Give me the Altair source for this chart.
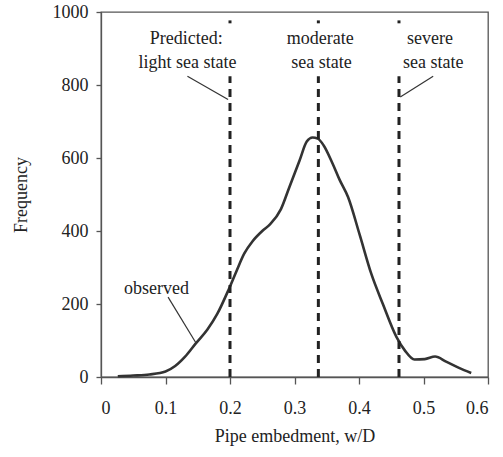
import altair as alt
import pandas as pd

# observed frequency curve
emb = [0.026, 0.05, 0.075, 0.1, 0.115, 0.13, 0.147, 0.165, 0.18, 0.198, 0.21, 0.222,
       0.235, 0.25, 0.262, 0.279, 0.292, 0.308, 0.319, 0.328, 0.336, 0.345, 0.359,
       0.37, 0.383, 0.401, 0.419, 0.437, 0.458, 0.471, 0.486, 0.502, 0.518, 0.535,
       0.555, 0.574]
freq = [2, 4, 7, 15, 30, 55, 92, 130, 172, 240, 290, 338, 372, 400, 418, 460, 520,
        594, 645, 656, 653, 635, 585, 540, 493, 390, 283, 200, 110, 73, 48, 49, 56,
        42, 25, 11]

# predicted embedment for sea states
pred_x = [0.2, 0.337, 0.462]

# annotation texts
ann_text = ["Predicted:", "light sea state", "moderate", "sea state", "severe", "sea state", "observed"]
ann_x = [0.132, 0.134, 0.340, 0.342, 0.510, 0.515, 0.086]
ann_y = [911, 846, 911, 846, 911, 846, 228]

# leader lines
lead_x = [0.134, 0.515, 0.104]
lead_x2 = [0.197, 0.464, 0.148]
lead_y = [824, 824, 219]
lead_y2 = [760, 767, 91]

FONT = "Liberation Serif"
FS = 18

curve_df = pd.DataFrame({"x": emb, "y": freq})
pred_low = pd.DataFrame({"x": pred_x, "y": [0] * 3, "y2": [824] * 3})
pred_top = pd.DataFrame({"x": pred_x, "y": [969] * 3, "y2": [977] * 3})
ann_df = pd.DataFrame({"t": ann_text, "x": ann_x, "y": ann_y})
lead_df = pd.DataFrame({"x": lead_x, "x2": lead_x2, "y": lead_y, "y2": lead_y2})

xscale = alt.Scale(domain=[0, 0.6], nice=False, zero=False)
yscale = alt.Scale(domain=[0, 1000], nice=False)

xaxis = alt.Axis(values=[0, 0.1, 0.2, 0.3, 0.4, 0.5, 0.6],
                 labelExpr="datum.value == 0 ? '0' : format(datum.value, '.1f')",
                 title="Pipe embedment, w/D", tickSize=7, labelPadding=15, titlePadding=10,
                 labelFont=FONT, titleFont=FONT, labelFontSize=FS, titleFontSize=FS)
yaxis = alt.Axis(values=[0, 200, 400, 600, 800, 1000], format="d", title="Frequency",
                 tickSize=5, labelPadding=8, titlePadding=22,
                 labelFont=FONT, titleFont=FONT, labelFontSize=FS, titleFontSize=FS)

curve = alt.Chart(curve_df).mark_line(
    interpolate="monotone", color="#333333", strokeWidth=2.6
).encode(
    x=alt.X("x:Q", scale=xscale, axis=xaxis),
    y=alt.Y("y:Q", scale=yscale, axis=yaxis),
)

dash_low = alt.Chart(pred_low).mark_rule(
    color="#222222", strokeWidth=3, strokeDash=[8, 6]
).encode(x="x:Q", y="y:Q", y2="y2:Q")

dash_top = alt.Chart(pred_top).mark_rule(
    color="#222222", strokeWidth=3
).encode(x="x:Q", y="y:Q", y2="y2:Q")

texts = alt.Chart(ann_df).mark_text(
    font=FONT, fontSize=FS, color="#222222", align="center", baseline="alphabetic"
).encode(x="x:Q", y="y:Q", text="t:N")

leads = alt.Chart(lead_df).mark_rule(color="#333333", strokeWidth=1.2).encode(
    x="x:Q", x2="x2:Q", y="y:Q", y2="y2:Q")

chart = alt.layer(curve, dash_low, dash_top, leads, texts).properties(
    width=387, height=365,
    autosize=alt.AutoSizeParams(type="none"),
    padding={"left": 101, "top": 12, "right": 15, "bottom": 80},
).configure_view(
    stroke="#555555", strokeWidth=1.3
).configure_axis(
    grid=False, domainColor="#555555", tickColor="#555555", domainWidth=1.3,
    tickWidth=1.3, labelColor="#222222", titleColor="#222222",
    titleFontWeight="normal",
)

chart.save("out.html", embed_options={"renderer": "svg", "actions": False})
